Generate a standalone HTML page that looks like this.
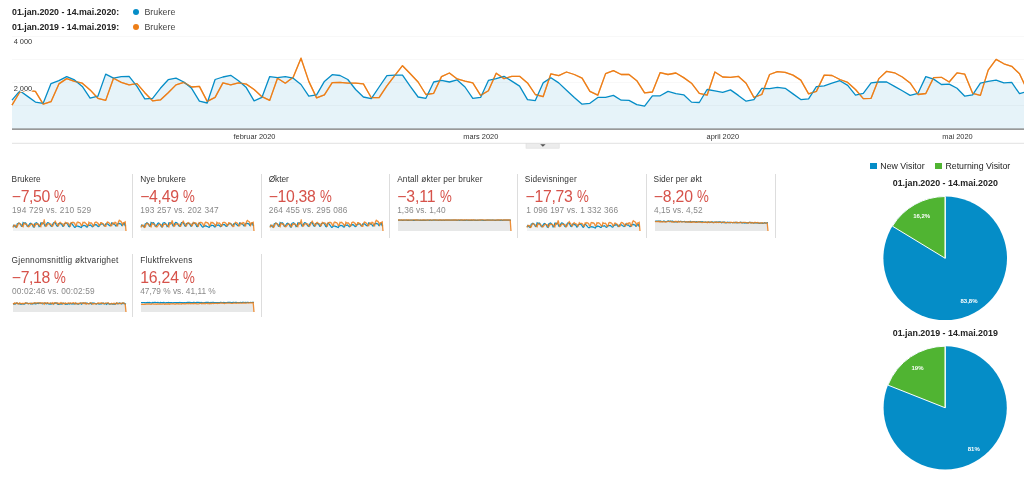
<!DOCTYPE html>
<html><head><meta charset="utf-8"><title>Brukere</title>
<style>
html,body{margin:0;padding:0;background:#fff;}
body{width:1024px;height:478px;position:relative;overflow:hidden;font-family:"Liberation Sans",sans-serif;color:#444;}
.lg{position:absolute;left:12px;font-size:8.8px;font-weight:bold;color:#222;white-space:nowrap;line-height:12px}
.lg2{position:absolute;left:144.5px;font-size:8.8px;color:#444;white-space:nowrap;line-height:12px}
.dot{position:absolute;left:132.5px;width:6.3px;height:6.3px;border-radius:50%}
svg text{font-family:"Liberation Sans",sans-serif}
.card{position:absolute;width:128px;height:64px;}
.card .t{position:absolute;left:0px;top:-0.1px;font-size:8.3px;line-height:10px;color:#333;white-space:nowrap}
.card .b{position:absolute;left:0px;top:14.1px;font-size:15.8px;line-height:18px;color:#d6524a;white-space:nowrap}
.card .s{position:absolute;left:0;top:31.4px;font-size:8.3px;line-height:10px;color:#888;white-space:nowrap}
.card .sp{position:absolute;left:0px;top:45px}
.pc{display:inline-block;transform:scaleX(0.84);transform-origin:0 50%;margin-right:-2.2px}
.sep{position:absolute;width:1px;background:#ddd;height:63.5px}
.pl{position:absolute;font-size:8.8px;color:#222;white-space:nowrap;line-height:10px}
.pt{position:absolute;font-size:8.9px;font-weight:bold;color:#222;white-space:nowrap;line-height:11px;width:200px;text-align:center}
.sq{position:absolute;width:6.3px;height:6.3px}
</style></head><body>
<div class="lg" style="top:6.3px">01.jan.2020 - 14.mai.2020:</div>
<div class="lg" style="top:21.4px">01.jan.2019 - 14.mai.2019:</div>
<div class="dot" style="top:8.8px;background:#058dc7"></div>
<div class="dot" style="top:23.6px;background:#ed7e17"></div>
<div class="lg2" style="top:6.4px">Brukere</div>
<div class="lg2" style="top:21.2px">Brukere</div>
<svg width="1024" height="160" viewBox="0 0 1024 160" style="position:absolute;left:0;top:0">
<g stroke="#f8f8f8" stroke-width="1">
<line x1="12" y1="36.5" x2="1024" y2="36.5"/>
<line x1="12" y1="59.5" x2="1024" y2="59.5"/>
<line x1="12" y1="82.5" x2="1024" y2="82.5"/>
<line x1="12" y1="105.5" x2="1024" y2="105.5"/>
</g>
<polygon points="12,129 12.0,100.2 19.8,90.8 27.6,96.4 35.4,102.1 43.2,103.3 51.0,83.6 58.9,80.7 66.7,76.6 74.5,79.9 82.3,86.4 90.1,98.1 97.9,96.2 105.7,74.1 113.5,78.2 121.3,76.6 129.1,76.3 137.0,86.4 144.8,98.9 152.6,98.3 160.4,88.3 168.2,79.7 176.0,78.2 183.8,82.0 191.6,88.3 199.4,101.2 207.2,103.0 215.1,79.5 222.9,77.0 230.7,75.3 238.5,80.7 246.3,87.6 254.1,100.8 261.9,97.4 269.7,76.6 277.5,77.6 285.3,76.6 293.2,78.2 301.0,84.5 308.8,96.2 316.6,94.9 324.4,81.4 332.2,74.7 340.0,75.5 347.8,79.5 355.6,89.5 363.4,97.0 371.3,98.7 379.1,87.0 386.9,75.7 394.7,75.1 402.5,75.1 410.3,86.4 418.1,97.0 425.9,98.3 433.7,82.0 441.5,80.4 449.4,82.0 457.2,79.9 465.0,87.0 472.8,98.3 480.6,97.4 488.4,80.4 496.2,78.6 504.0,76.3 511.8,81.1 519.6,86.1 527.5,99.6 535.3,100.6 543.1,82.9 550.9,77.8 558.7,82.9 566.5,90.2 574.3,97.4 582.1,104.2 589.9,103.3 597.8,97.4 605.6,97.4 613.4,95.4 621.2,100.2 629.0,100.4 636.8,104.6 644.6,106.2 652.4,95.8 660.2,95.8 668.0,91.4 675.9,93.7 683.7,94.8 691.5,102.1 699.3,102.5 707.1,89.5 714.9,90.8 722.7,92.4 730.5,89.9 738.3,95.4 746.1,101.2 753.9,99.6 761.8,88.3 769.6,88.6 777.4,87.3 785.2,88.3 793.0,93.9 800.8,99.6 808.6,98.9 816.4,86.6 824.2,85.8 832.0,83.2 839.9,80.7 847.7,85.4 855.5,95.2 863.3,93.3 871.1,82.9 878.9,82.0 886.7,82.0 894.5,86.4 902.3,90.8 910.1,95.4 918.0,93.3 925.8,76.6 933.6,79.1 941.4,84.5 949.2,84.1 957.0,88.3 964.8,96.2 972.6,94.9 980.4,83.2 988.2,81.4 996.1,80.1 1003.9,82.9 1011.7,82.4 1019.5,93.7 1027.3,91.4 1027.3,129" fill="#058dc7" fill-opacity="0.1"/>
<polyline points="12.0,105.2 19.8,92.0 27.6,90.4 35.4,91.4 43.2,104.2 51.0,101.7 58.9,83.9 66.7,78.6 74.5,81.4 82.3,83.2 90.1,89.9 97.9,98.3 105.7,100.4 113.5,78.2 121.3,82.4 129.1,84.9 137.0,83.6 144.8,92.7 152.6,100.8 160.4,99.9 168.2,92.7 176.0,84.9 183.8,82.4 191.6,87.0 199.4,86.4 207.2,101.4 215.1,97.4 222.9,82.9 230.7,84.9 238.5,82.9 246.3,84.1 254.1,89.5 261.9,96.7 269.7,100.4 277.5,78.2 285.3,83.2 293.2,77.3 301.0,58.2 308.8,81.4 316.6,97.9 324.4,94.9 332.2,82.6 340.0,82.4 347.8,83.2 355.6,83.2 363.4,83.9 371.3,97.7 379.1,97.7 386.9,85.8 394.7,75.7 402.5,65.7 410.3,73.8 418.1,82.0 425.9,94.5 433.7,93.3 441.5,76.6 449.4,73.0 457.2,78.9 465.0,81.1 472.8,82.9 480.6,95.4 488.4,90.8 496.2,73.2 504.0,78.6 511.8,76.3 519.6,76.3 527.5,82.9 535.3,94.5 543.1,96.7 550.9,73.8 558.7,75.7 566.5,72.0 574.3,74.5 582.1,78.2 589.9,91.4 597.8,95.2 605.6,73.6 613.4,70.7 621.2,74.5 629.0,74.5 636.8,80.7 644.6,92.9 652.4,92.0 660.2,72.6 668.0,74.5 675.9,73.0 683.7,77.6 691.5,83.2 699.3,93.3 707.1,95.2 714.9,72.0 722.7,77.0 730.5,77.3 738.3,76.3 746.1,83.2 753.9,97.4 761.8,94.5 769.6,74.5 777.4,71.6 785.2,72.3 793.0,75.1 800.8,80.1 808.6,93.9 816.4,91.4 824.2,75.1 832.0,75.5 839.9,79.5 847.7,82.4 855.5,89.5 863.3,98.7 871.1,98.3 878.9,78.6 886.7,71.3 894.5,72.8 902.3,77.0 910.1,82.9 918.0,94.5 925.8,93.5 933.6,77.6 941.4,77.3 949.2,82.0 957.0,72.8 964.8,74.2 972.6,93.3 980.4,95.4 988.2,70.1 996.1,59.4 1003.9,63.8 1011.7,66.3 1019.5,73.8 1027.3,90.2" fill="none" stroke="#ed7e17" stroke-width="1.3" stroke-linejoin="round"/>
<polyline points="12.0,100.2 19.8,90.8 27.6,96.4 35.4,102.1 43.2,103.3 51.0,83.6 58.9,80.7 66.7,76.6 74.5,79.9 82.3,86.4 90.1,98.1 97.9,96.2 105.7,74.1 113.5,78.2 121.3,76.6 129.1,76.3 137.0,86.4 144.8,98.9 152.6,98.3 160.4,88.3 168.2,79.7 176.0,78.2 183.8,82.0 191.6,88.3 199.4,101.2 207.2,103.0 215.1,79.5 222.9,77.0 230.7,75.3 238.5,80.7 246.3,87.6 254.1,100.8 261.9,97.4 269.7,76.6 277.5,77.6 285.3,76.6 293.2,78.2 301.0,84.5 308.8,96.2 316.6,94.9 324.4,81.4 332.2,74.7 340.0,75.5 347.8,79.5 355.6,89.5 363.4,97.0 371.3,98.7 379.1,87.0 386.9,75.7 394.7,75.1 402.5,75.1 410.3,86.4 418.1,97.0 425.9,98.3 433.7,82.0 441.5,80.4 449.4,82.0 457.2,79.9 465.0,87.0 472.8,98.3 480.6,97.4 488.4,80.4 496.2,78.6 504.0,76.3 511.8,81.1 519.6,86.1 527.5,99.6 535.3,100.6 543.1,82.9 550.9,77.8 558.7,82.9 566.5,90.2 574.3,97.4 582.1,104.2 589.9,103.3 597.8,97.4 605.6,97.4 613.4,95.4 621.2,100.2 629.0,100.4 636.8,104.6 644.6,106.2 652.4,95.8 660.2,95.8 668.0,91.4 675.9,93.7 683.7,94.8 691.5,102.1 699.3,102.5 707.1,89.5 714.9,90.8 722.7,92.4 730.5,89.9 738.3,95.4 746.1,101.2 753.9,99.6 761.8,88.3 769.6,88.6 777.4,87.3 785.2,88.3 793.0,93.9 800.8,99.6 808.6,98.9 816.4,86.6 824.2,85.8 832.0,83.2 839.9,80.7 847.7,85.4 855.5,95.2 863.3,93.3 871.1,82.9 878.9,82.0 886.7,82.0 894.5,86.4 902.3,90.8 910.1,95.4 918.0,93.3 925.8,76.6 933.6,79.1 941.4,84.5 949.2,84.1 957.0,88.3 964.8,96.2 972.6,94.9 980.4,83.2 988.2,81.4 996.1,80.1 1003.9,82.9 1011.7,82.4 1019.5,93.7 1027.3,91.4" fill="none" stroke="#058dc7" stroke-width="1.3" stroke-linejoin="round"/>
<polyline points="12.0,105.2 19.8,92.0 27.6,90.4 35.4,91.4 43.2,104.2 51.0,101.7 58.9,83.9 66.7,78.6 74.5,81.4 82.3,83.2 90.1,89.9 97.9,98.3 105.7,100.4 113.5,78.2 121.3,82.4 129.1,84.9 137.0,83.6 144.8,92.7 152.6,100.8 160.4,99.9 168.2,92.7 176.0,84.9 183.8,82.4 191.6,87.0 199.4,86.4 207.2,101.4 215.1,97.4 222.9,82.9 230.7,84.9 238.5,82.9 246.3,84.1 254.1,89.5 261.9,96.7 269.7,100.4 277.5,78.2 285.3,83.2 293.2,77.3 301.0,58.2 308.8,81.4 316.6,97.9 324.4,94.9 332.2,82.6 340.0,82.4 347.8,83.2 355.6,83.2 363.4,83.9 371.3,97.7 379.1,97.7 386.9,85.8 394.7,75.7 402.5,65.7 410.3,73.8 418.1,82.0 425.9,94.5 433.7,93.3 441.5,76.6 449.4,73.0 457.2,78.9 465.0,81.1 472.8,82.9 480.6,95.4 488.4,90.8 496.2,73.2 504.0,78.6 511.8,76.3 519.6,76.3 527.5,82.9 535.3,94.5 543.1,96.7 550.9,73.8 558.7,75.7 566.5,72.0 574.3,74.5 582.1,78.2 589.9,91.4 597.8,95.2 605.6,73.6 613.4,70.7 621.2,74.5 629.0,74.5 636.8,80.7 644.6,92.9 652.4,92.0 660.2,72.6 668.0,74.5 675.9,73.0 683.7,77.6 691.5,83.2 699.3,93.3 707.1,95.2 714.9,72.0 722.7,77.0 730.5,77.3 738.3,76.3 746.1,83.2 753.9,97.4 761.8,94.5 769.6,74.5 777.4,71.6 785.2,72.3 793.0,75.1 800.8,80.1 808.6,93.9 816.4,91.4 824.2,75.1 832.0,75.5 839.9,79.5 847.7,82.4 855.5,89.5 863.3,98.7 871.1,98.3 878.9,78.6 886.7,71.3 894.5,72.8 902.3,77.0 910.1,82.9 918.0,94.5 925.8,93.5 933.6,77.6 941.4,77.3 949.2,82.0 957.0,72.8 964.8,74.2 972.6,93.3 980.4,95.4 988.2,70.1 996.1,59.4 1003.9,63.8 1011.7,66.3 1019.5,73.8 1027.3,90.2" fill="none" stroke="#ed7e17" stroke-width="1.3" stroke-linejoin="round" stroke-opacity="0.55"/>
<line x1="12" y1="129.1" x2="1024" y2="129.1" stroke="#777" stroke-width="1.3"/>
<line x1="12" y1="143.3" x2="1024" y2="143.3" stroke="#e2e2e2" stroke-width="1"/>
<g font-size="7.4" fill="#333" stroke="#fff" stroke-width="2" paint-order="stroke" stroke-linejoin="round">
<text x="13.7" y="44.3">4 000</text>
<text x="13.7" y="90.9">2 000</text>
<text x="254.5" y="139.2" text-anchor="middle">februar 2020</text>
<text x="480.8" y="139.2" text-anchor="middle">mars 2020</text>
<text x="722.8" y="139.2" text-anchor="middle">april 2020</text>
<text x="957.5" y="139.2" text-anchor="middle">mai 2020</text>
</g>
<rect x="526" y="143.3" width="33.2" height="4.9" fill="#ececec" stroke="#ddd" stroke-width="0.6"/>
<path d="M540.2,144.2 L545.6,144.2 L542.9,146.8 Z" fill="#555"/>
</svg>
<div class="card" style="left:12px;top:174.0px"><div class="t" id="t0" style="letter-spacing:0.000px;margin-left:-0.40px">Brukere</div><div class="b" id="b0" style="letter-spacing:-0.367px;margin-left:-0.20px">−7,50 <span class="pc">%</span></div><div class="s" id="s0" style="letter-spacing:0.222px;margin-left:0.00px">194 729 vs. 210 529</div><svg class="sp" width="116" height="14" viewBox="-1 -1 116 14"><polygon points="0,11 0.0,6.6 0.8,5.2 1.7,5.1 2.5,5.3 3.4,7.1 4.2,4.0 5.1,3.6 5.9,2.9 6.7,3.4 7.6,4.0 8.4,5.0 9.3,6.0 10.1,2.5 11.0,3.2 11.8,2.9 12.6,2.9 13.5,4.0 14.3,5.5 15.2,6.3 16.0,4.8 16.9,3.4 17.7,3.2 18.6,3.8 19.4,4.6 20.2,4.5 21.1,6.8 21.9,3.4 22.8,3.0 23.6,2.7 24.5,3.6 25.3,4.1 26.1,5.0 27.0,6.1 27.8,2.9 28.7,3.1 29.5,2.9 30.4,3.0 31.2,0.3 32.0,3.7 32.9,5.8 33.7,3.7 34.6,2.6 35.4,2.7 36.3,3.4 37.1,4.0 37.9,4.1 38.8,6.2 39.6,4.6 40.5,2.8 41.3,2.7 42.2,1.2 43.0,2.5 43.9,3.8 44.7,5.8 45.5,3.8 46.4,2.9 47.2,2.3 48.1,3.3 48.9,3.6 49.8,3.9 50.6,5.9 51.4,3.5 52.3,2.4 53.1,2.9 54.0,2.9 54.8,2.9 55.7,3.9 56.5,5.8 57.3,3.9 58.2,2.5 59.0,2.8 59.9,2.2 60.7,2.6 61.6,3.2 62.4,5.3 63.2,5.8 64.1,2.4 64.9,2.0 65.8,2.6 66.6,2.6 67.5,3.6 68.3,5.5 69.1,5.4 70.0,2.3 70.8,2.6 71.7,2.3 72.5,3.1 73.4,4.0 74.2,5.6 75.1,5.0 75.9,2.2 76.7,3.0 77.6,3.0 78.4,2.9 79.3,4.0 80.1,6.2 81.0,4.8 81.8,2.6 82.6,2.1 83.5,2.2 84.3,2.7 85.2,3.5 86.0,5.7 86.9,4.5 87.7,2.7 88.5,2.7 89.4,3.4 90.2,3.8 91.1,5.0 91.9,5.6 92.8,3.9 93.6,3.2 94.4,2.1 95.3,2.3 96.1,3.0 97.0,3.9 97.8,5.6 98.7,2.9 99.5,3.1 100.4,3.0 101.2,3.8 102.0,2.3 102.9,2.5 103.7,5.6 104.6,4.0 105.4,1.9 106.3,0.3 107.1,0.9 107.9,1.3 108.8,2.5 109.6,5.1 110.5,2.7 111.3,2.6 112.2,2.0 113.0,2.0 113.0,11.0" fill="#f0f2f3"/><polyline points="0.0,6.6 0.8,5.2 1.7,6.0 2.5,6.9 3.4,7.1 4.2,4.0 5.1,3.6 5.9,2.9 6.7,3.4 7.6,4.5 8.4,6.3 9.3,6.0 10.1,2.5 11.0,3.2 11.8,2.9 12.6,2.9 13.5,4.5 14.3,6.4 15.2,6.3 16.0,4.8 16.9,3.4 17.7,3.2 18.6,3.8 19.4,4.8 20.2,6.8 21.1,7.1 21.9,3.4 22.8,3.0 23.6,2.7 24.5,3.6 25.3,4.7 26.1,6.7 27.0,6.2 27.8,2.9 28.7,3.1 29.5,2.9 30.4,3.2 31.2,4.2 32.0,6.0 32.9,5.8 33.7,3.7 34.6,2.6 35.4,2.7 36.3,3.4 37.1,5.0 37.9,6.1 38.8,6.4 39.6,4.6 40.5,2.8 41.3,2.7 42.2,2.7 43.0,4.5 43.9,6.1 44.7,6.3 45.5,3.8 46.4,3.5 47.2,3.8 48.1,3.4 48.9,4.6 49.8,6.3 50.6,6.2 51.4,3.5 52.3,3.2 53.1,2.9 54.0,3.6 54.8,4.4 55.7,6.5 56.5,6.7 57.3,3.9 58.2,3.1 59.0,3.9 59.9,5.1 60.7,6.2 61.6,7.3 62.4,7.1 63.2,6.2 64.1,6.2 64.9,5.9 65.8,6.6 66.6,6.7 67.5,7.3 68.3,7.6 69.1,5.9 70.0,5.9 70.8,5.3 71.7,5.6 72.5,5.8 73.4,6.9 74.2,7.0 75.1,5.0 75.9,5.2 76.7,5.4 77.6,5.0 78.4,5.9 79.3,6.8 80.1,6.5 81.0,4.8 81.8,4.8 82.6,4.6 83.5,4.8 84.3,5.7 85.2,6.5 86.0,6.4 86.9,4.5 87.7,4.4 88.5,4.0 89.4,3.6 90.2,4.3 91.1,5.8 91.9,5.6 92.8,3.9 93.6,3.8 94.4,3.8 95.3,4.5 96.1,5.2 97.0,5.9 97.8,5.6 98.7,2.9 99.5,3.3 100.4,4.2 101.2,4.1 102.0,4.8 102.9,6.0 103.7,5.8 104.6,4.0 105.4,3.7 106.3,3.5 107.1,3.9 107.9,3.8 108.8,5.6 109.6,5.3 110.5,3.7 111.3,3.3 112.2,5.7 113.0,5.9" fill="none" stroke="#058dc7" stroke-width="1.2"/><polyline points="0.0,7.4 0.8,5.4 1.7,5.1 2.5,5.3 3.4,7.3 4.2,6.9 5.1,4.1 5.9,3.2 6.7,3.7 7.6,4.0 8.4,5.0 9.3,6.3 10.1,6.7 11.0,3.2 11.8,3.8 12.6,4.2 13.5,4.0 14.3,5.5 15.2,6.7 16.0,6.6 16.9,5.5 17.7,4.2 18.6,3.8 19.4,4.6 20.2,4.5 21.1,6.8 21.9,6.2 22.8,3.9 23.6,4.2 24.5,3.9 25.3,4.1 26.1,5.0 27.0,6.1 27.8,6.7 28.7,3.2 29.5,4.0 30.4,3.0 31.2,0.3 32.0,3.7 32.9,6.3 33.7,5.8 34.6,3.9 35.4,3.8 36.3,4.0 37.1,4.0 37.9,4.1 38.8,6.2 39.6,6.2 40.5,4.4 41.3,2.8 42.2,1.2 43.0,2.5 43.9,3.8 44.7,5.8 45.5,5.6 46.4,2.9 47.2,2.3 48.1,3.3 48.9,3.6 49.8,3.9 50.6,5.9 51.4,5.2 52.3,2.4 53.1,3.2 54.0,2.9 54.8,2.9 55.7,3.9 56.5,5.8 57.3,6.1 58.2,2.5 59.0,2.8 59.9,2.2 60.7,2.6 61.6,3.2 62.4,5.3 63.2,5.8 64.1,2.4 64.9,2.0 65.8,2.6 66.6,2.6 67.5,3.6 68.3,5.5 69.1,5.4 70.0,2.3 70.8,2.6 71.7,2.3 72.5,3.1 73.4,4.0 74.2,5.6 75.1,5.8 75.9,2.2 76.7,3.0 77.6,3.0 78.4,2.9 79.3,4.0 80.1,6.2 81.0,5.8 81.8,2.6 82.6,2.1 83.5,2.2 84.3,2.7 85.2,3.5 86.0,5.7 86.9,5.3 87.7,2.7 88.5,2.7 89.4,3.4 90.2,3.8 91.1,5.0 91.9,6.4 92.8,6.3 93.6,3.2 94.4,2.1 95.3,2.3 96.1,3.0 97.0,3.9 97.8,5.8 98.7,5.6 99.5,3.1 100.4,3.0 101.2,3.8 102.0,2.3 102.9,2.5 103.7,5.6 104.6,5.9 105.4,1.9 106.3,0.3 107.1,0.9 107.9,1.3 108.8,2.5 109.6,5.1 110.5,2.7 111.3,2.6 112.2,2.0 113.0,11.0" fill="none" stroke="#ed7e17" stroke-width="1.3" stroke-opacity="0.85"/></svg></div>
<div class="card" style="left:140px;top:174.0px"><div class="t" id="t1" style="letter-spacing:0.060px;margin-left:0.20px">Nye brukere</div><div class="b" id="b1" style="letter-spacing:-0.300px;margin-left:0.20px">−4,49 <span class="pc">%</span></div><div class="s" id="s1" style="letter-spacing:0.178px;margin-left:0.20px">193 257 vs. 202 347</div><svg class="sp" width="116" height="14" viewBox="-1 -1 116 14"><polygon points="0,11 0.0,6.5 0.8,5.0 1.7,5.2 2.5,5.4 3.4,7.0 4.2,3.9 5.1,3.4 5.9,2.8 6.7,3.3 7.6,4.1 8.4,5.2 9.3,5.9 10.1,2.4 11.0,3.0 11.8,2.8 12.6,2.7 13.5,4.2 14.3,5.6 15.2,6.2 16.0,4.6 16.9,3.3 17.7,3.0 18.6,3.6 19.4,4.6 20.2,4.6 21.1,6.9 21.9,3.2 22.8,2.8 23.6,2.6 24.5,3.4 25.3,4.3 26.1,5.1 27.0,6.1 27.8,2.8 28.7,2.9 29.5,2.8 30.4,3.0 31.2,0.3 32.0,3.8 32.9,5.7 33.7,3.5 34.6,2.5 35.4,2.6 36.3,3.2 37.1,4.1 37.9,4.2 38.8,6.3 39.6,4.4 40.5,2.6 41.3,2.5 42.2,1.3 43.0,2.6 43.9,3.9 44.7,5.9 45.5,3.6 46.4,3.1 47.2,2.5 48.1,3.3 48.9,3.8 49.8,4.1 50.6,6.0 51.4,3.4 52.3,2.5 53.1,2.7 54.0,3.0 54.8,3.0 55.7,4.1 56.5,5.9 57.3,3.8 58.2,2.6 59.0,2.9 59.9,2.3 60.7,2.7 61.6,3.3 62.4,5.4 63.2,6.0 64.1,2.6 64.9,2.1 65.8,2.7 66.6,2.7 67.5,3.7 68.3,5.6 69.1,5.5 70.0,2.4 70.8,2.7 71.7,2.5 72.5,3.2 73.4,4.1 74.2,5.7 75.1,4.8 75.9,2.3 76.7,3.1 77.6,3.2 78.4,3.0 79.3,4.1 80.1,6.4 81.0,4.6 81.8,2.7 82.6,2.3 83.5,2.4 84.3,2.8 85.2,3.6 86.0,5.8 86.9,4.4 87.7,2.8 88.5,2.9 89.4,3.4 90.2,4.0 91.1,5.1 91.9,5.4 92.8,3.8 93.6,3.4 94.4,2.2 95.3,2.5 96.1,3.1 97.0,4.1 97.8,5.4 98.7,2.8 99.5,3.2 100.4,3.2 101.2,3.9 102.0,2.5 102.9,2.7 103.7,5.7 104.6,3.8 105.4,2.0 106.3,0.4 107.1,1.0 107.9,1.4 108.8,2.6 109.6,5.1 110.5,2.9 111.3,2.7 112.2,2.2 113.0,2.2 113.0,11.0" fill="#f0f2f3"/><polyline points="0.0,6.5 0.8,5.0 1.7,5.9 2.5,6.8 3.4,7.0 4.2,3.9 5.1,3.4 5.9,2.8 6.7,3.3 7.6,4.3 8.4,6.2 9.3,5.9 10.1,2.4 11.0,3.0 11.8,2.8 12.6,2.7 13.5,4.3 14.3,6.3 15.2,6.2 16.0,4.6 16.9,3.3 17.7,3.0 18.6,3.6 19.4,4.6 20.2,6.6 21.1,6.9 21.9,3.2 22.8,2.8 23.6,2.6 24.5,3.4 25.3,4.5 26.1,6.6 27.0,6.1 27.8,2.8 28.7,2.9 29.5,2.8 30.4,3.0 31.2,4.0 32.0,5.9 32.9,5.7 33.7,3.5 34.6,2.5 35.4,2.6 36.3,3.2 37.1,4.8 37.9,6.0 38.8,6.3 39.6,4.4 40.5,2.6 41.3,2.5 42.2,2.5 43.0,4.3 43.9,6.0 44.7,6.2 45.5,3.6 46.4,3.4 47.2,3.6 48.1,3.3 48.9,4.4 49.8,6.2 50.6,6.1 51.4,3.4 52.3,3.1 53.1,2.7 54.0,3.5 54.8,4.3 55.7,6.4 56.5,6.6 57.3,3.8 58.2,3.0 59.0,3.8 59.9,4.9 60.7,6.1 61.6,7.1 62.4,7.0 63.2,6.1 64.1,6.1 64.9,5.7 65.8,6.5 66.6,6.5 67.5,7.2 68.3,7.4 69.1,5.8 70.0,5.8 70.8,5.1 71.7,5.5 72.5,5.6 73.4,6.8 74.2,6.8 75.1,4.8 75.9,5.0 76.7,5.3 77.6,4.9 78.4,5.7 79.3,6.6 80.1,6.4 81.0,4.6 81.8,4.7 82.6,4.5 83.5,4.6 84.3,5.5 85.2,6.4 86.0,6.3 86.9,4.4 87.7,4.2 88.5,3.8 89.4,3.4 90.2,4.2 91.1,5.7 91.9,5.4 92.8,3.8 93.6,3.6 94.4,3.6 95.3,4.3 96.1,5.0 97.0,5.7 97.8,5.4 98.7,2.8 99.5,3.2 100.4,4.0 101.2,4.0 102.0,4.6 102.9,5.9 103.7,5.7 104.6,3.8 105.4,3.5 106.3,3.3 107.1,3.8 107.9,3.7 108.8,5.5 109.6,5.1 110.5,3.5 111.3,3.1 112.2,5.5 113.0,5.7" fill="none" stroke="#058dc7" stroke-width="1.2"/><polyline points="0.0,7.6 0.8,5.5 1.7,5.2 2.5,5.4 3.4,7.4 4.2,7.0 5.1,4.2 5.9,3.4 6.7,3.8 7.6,4.1 8.4,5.2 9.3,6.5 10.1,6.8 11.0,3.3 11.8,4.0 12.6,4.4 13.5,4.2 14.3,5.6 15.2,6.9 16.0,6.8 16.9,5.6 17.7,4.4 18.6,4.0 19.4,4.7 20.2,4.6 21.1,7.0 21.9,6.4 22.8,4.1 23.6,4.4 24.5,4.1 25.3,4.3 26.1,5.1 27.0,6.2 27.8,6.8 28.7,3.3 29.5,4.1 30.4,3.2 31.2,0.3 32.0,3.8 32.9,6.4 33.7,6.0 34.6,4.0 35.4,4.0 36.3,4.1 37.1,4.1 37.9,4.2 38.8,6.4 39.6,6.4 40.5,4.5 41.3,2.9 42.2,1.3 43.0,2.6 43.9,3.9 44.7,5.9 45.5,5.7 46.4,3.1 47.2,2.5 48.1,3.4 48.9,3.8 49.8,4.1 50.6,6.0 51.4,5.3 52.3,2.5 53.1,3.4 54.0,3.0 54.8,3.0 55.7,4.1 56.5,5.9 57.3,6.2 58.2,2.6 59.0,2.9 59.9,2.3 60.7,2.7 61.6,3.3 62.4,5.4 63.2,6.0 64.1,2.6 64.9,2.1 65.8,2.7 66.6,2.7 67.5,3.7 68.3,5.6 69.1,5.5 70.0,2.4 70.8,2.7 71.7,2.5 72.5,3.2 73.4,4.1 74.2,5.7 75.1,6.0 75.9,2.3 76.7,3.1 77.6,3.2 78.4,3.0 79.3,4.1 80.1,6.4 81.0,5.9 81.8,2.7 82.6,2.3 83.5,2.4 84.3,2.8 85.2,3.6 86.0,5.8 86.9,5.4 87.7,2.8 88.5,2.9 89.4,3.5 90.2,4.0 91.1,5.1 91.9,6.6 92.8,6.5 93.6,3.4 94.4,2.2 95.3,2.5 96.1,3.1 97.0,4.1 97.8,5.9 98.7,5.7 99.5,3.2 100.4,3.2 101.2,3.9 102.0,2.5 102.9,2.7 103.7,5.7 104.6,6.0 105.4,2.0 106.3,0.4 107.1,1.0 107.9,1.4 108.8,2.6 109.6,5.2 110.5,2.9 111.3,2.7 112.2,2.2 113.0,11.0" fill="none" stroke="#ed7e17" stroke-width="1.3" stroke-opacity="0.85"/></svg></div>
<div class="card" style="left:268.5px;top:174.0px"><div class="t" id="t2" style="letter-spacing:-0.050px;margin-left:0.20px">Økter</div><div class="b" id="b2" style="letter-spacing:-0.314px;margin-left:0.20px">−10,38 <span class="pc">%</span></div><div class="s" id="s2" style="letter-spacing:0.200px;margin-left:0.20px">264 455 vs. 295 086</div><svg class="sp" width="116" height="14" viewBox="-1 -1 116 14"><polygon points="0,11 0.0,6.6 0.8,5.2 1.7,5.1 2.5,5.3 3.4,7.1 4.2,4.0 5.1,3.6 5.9,2.9 6.7,3.4 7.6,4.0 8.4,5.0 9.3,6.0 10.1,2.5 11.0,3.2 11.8,2.9 12.6,2.9 13.5,4.0 14.3,5.5 15.2,6.3 16.0,4.8 16.9,3.4 17.7,3.2 18.6,3.8 19.4,4.6 20.2,4.5 21.1,6.8 21.9,3.4 22.8,3.0 23.6,2.7 24.5,3.6 25.3,4.1 26.1,5.0 27.0,6.1 27.8,2.9 28.7,3.1 29.5,2.9 30.4,3.0 31.2,0.3 32.0,3.7 32.9,5.8 33.7,3.7 34.6,2.6 35.4,2.7 36.3,3.4 37.1,4.0 37.9,4.1 38.8,6.2 39.6,4.6 40.5,2.8 41.3,2.7 42.2,1.2 43.0,2.5 43.9,3.8 44.7,5.8 45.5,3.8 46.4,2.9 47.2,2.3 48.1,3.3 48.9,3.6 49.8,3.9 50.6,5.9 51.4,3.5 52.3,2.4 53.1,2.9 54.0,2.9 54.8,2.9 55.7,3.9 56.5,5.8 57.3,3.9 58.2,2.5 59.0,2.8 59.9,2.2 60.7,2.6 61.6,3.2 62.4,5.3 63.2,5.8 64.1,2.4 64.9,2.0 65.8,2.6 66.6,2.6 67.5,3.6 68.3,5.5 69.1,5.4 70.0,2.3 70.8,2.6 71.7,2.3 72.5,3.1 73.4,4.0 74.2,5.6 75.1,5.0 75.9,2.2 76.7,3.0 77.6,3.0 78.4,2.9 79.3,4.0 80.1,6.2 81.0,4.8 81.8,2.6 82.6,2.1 83.5,2.2 84.3,2.7 85.2,3.5 86.0,5.7 86.9,4.5 87.7,2.7 88.5,2.7 89.4,3.4 90.2,3.8 91.1,5.0 91.9,5.6 92.8,3.9 93.6,3.2 94.4,2.1 95.3,2.3 96.1,3.0 97.0,3.9 97.8,5.6 98.7,2.9 99.5,3.1 100.4,3.0 101.2,3.8 102.0,2.3 102.9,2.5 103.7,5.6 104.6,4.0 105.4,1.9 106.3,0.3 107.1,0.9 107.9,1.3 108.8,2.5 109.6,5.1 110.5,2.7 111.3,2.6 112.2,2.0 113.0,2.0 113.0,11.0" fill="#f0f2f3"/><polyline points="0.0,6.6 0.8,5.2 1.7,6.0 2.5,6.9 3.4,7.1 4.2,4.0 5.1,3.6 5.9,2.9 6.7,3.4 7.6,4.5 8.4,6.3 9.3,6.0 10.1,2.5 11.0,3.2 11.8,2.9 12.6,2.9 13.5,4.5 14.3,6.4 15.2,6.3 16.0,4.8 16.9,3.4 17.7,3.2 18.6,3.8 19.4,4.8 20.2,6.8 21.1,7.1 21.9,3.4 22.8,3.0 23.6,2.7 24.5,3.6 25.3,4.7 26.1,6.7 27.0,6.2 27.8,2.9 28.7,3.1 29.5,2.9 30.4,3.2 31.2,4.2 32.0,6.0 32.9,5.8 33.7,3.7 34.6,2.6 35.4,2.7 36.3,3.4 37.1,5.0 37.9,6.1 38.8,6.4 39.6,4.6 40.5,2.8 41.3,2.7 42.2,2.7 43.0,4.5 43.9,6.1 44.7,6.3 45.5,3.8 46.4,3.5 47.2,3.8 48.1,3.4 48.9,4.6 49.8,6.3 50.6,6.2 51.4,3.5 52.3,3.2 53.1,2.9 54.0,3.6 54.8,4.4 55.7,6.5 56.5,6.7 57.3,3.9 58.2,3.1 59.0,3.9 59.9,5.1 60.7,6.2 61.6,7.3 62.4,7.1 63.2,6.2 64.1,6.2 64.9,5.9 65.8,6.6 66.6,6.7 67.5,7.3 68.3,7.6 69.1,5.9 70.0,5.9 70.8,5.3 71.7,5.6 72.5,5.8 73.4,6.9 74.2,7.0 75.1,5.0 75.9,5.2 76.7,5.4 77.6,5.0 78.4,5.9 79.3,6.8 80.1,6.5 81.0,4.8 81.8,4.8 82.6,4.6 83.5,4.8 84.3,5.7 85.2,6.5 86.0,6.4 86.9,4.5 87.7,4.4 88.5,4.0 89.4,3.6 90.2,4.3 91.1,5.8 91.9,5.6 92.8,3.9 93.6,3.8 94.4,3.8 95.3,4.5 96.1,5.2 97.0,5.9 97.8,5.6 98.7,2.9 99.5,3.3 100.4,4.2 101.2,4.1 102.0,4.8 102.9,6.0 103.7,5.8 104.6,4.0 105.4,3.7 106.3,3.5 107.1,3.9 107.9,3.8 108.8,5.6 109.6,5.3 110.5,3.7 111.3,3.3 112.2,5.7 113.0,5.9" fill="none" stroke="#058dc7" stroke-width="1.2"/><polyline points="0.0,7.4 0.8,5.4 1.7,5.1 2.5,5.3 3.4,7.3 4.2,6.9 5.1,4.1 5.9,3.2 6.7,3.7 7.6,4.0 8.4,5.0 9.3,6.3 10.1,6.7 11.0,3.2 11.8,3.8 12.6,4.2 13.5,4.0 14.3,5.5 15.2,6.7 16.0,6.6 16.9,5.5 17.7,4.2 18.6,3.8 19.4,4.6 20.2,4.5 21.1,6.8 21.9,6.2 22.8,3.9 23.6,4.2 24.5,3.9 25.3,4.1 26.1,5.0 27.0,6.1 27.8,6.7 28.7,3.2 29.5,4.0 30.4,3.0 31.2,0.3 32.0,3.7 32.9,6.3 33.7,5.8 34.6,3.9 35.4,3.8 36.3,4.0 37.1,4.0 37.9,4.1 38.8,6.2 39.6,6.2 40.5,4.4 41.3,2.8 42.2,1.2 43.0,2.5 43.9,3.8 44.7,5.8 45.5,5.6 46.4,2.9 47.2,2.3 48.1,3.3 48.9,3.6 49.8,3.9 50.6,5.9 51.4,5.2 52.3,2.4 53.1,3.2 54.0,2.9 54.8,2.9 55.7,3.9 56.5,5.8 57.3,6.1 58.2,2.5 59.0,2.8 59.9,2.2 60.7,2.6 61.6,3.2 62.4,5.3 63.2,5.8 64.1,2.4 64.9,2.0 65.8,2.6 66.6,2.6 67.5,3.6 68.3,5.5 69.1,5.4 70.0,2.3 70.8,2.6 71.7,2.3 72.5,3.1 73.4,4.0 74.2,5.6 75.1,5.8 75.9,2.2 76.7,3.0 77.6,3.0 78.4,2.9 79.3,4.0 80.1,6.2 81.0,5.8 81.8,2.6 82.6,2.1 83.5,2.2 84.3,2.7 85.2,3.5 86.0,5.7 86.9,5.3 87.7,2.7 88.5,2.7 89.4,3.4 90.2,3.8 91.1,5.0 91.9,6.4 92.8,6.3 93.6,3.2 94.4,2.1 95.3,2.3 96.1,3.0 97.0,3.9 97.8,5.8 98.7,5.6 99.5,3.1 100.4,3.0 101.2,3.8 102.0,2.3 102.9,2.5 103.7,5.6 104.6,5.9 105.4,1.9 106.3,0.3 107.1,0.9 107.9,1.3 108.8,2.5 109.6,5.1 110.5,2.7 111.3,2.6 112.2,2.0 113.0,11.0" fill="none" stroke="#ed7e17" stroke-width="1.3" stroke-opacity="0.85"/></svg></div>
<div class="card" style="left:397px;top:174.0px"><div class="t" id="t3" style="letter-spacing:0.145px;margin-left:0.20px">Antall økter per bruker</div><div class="b" id="b3" style="letter-spacing:-0.100px;margin-left:0.20px">−3,11 <span class="pc">%</span></div><div class="s" id="s3" style="letter-spacing:0.067px;margin-left:0.20px">1,36 vs. 1,40</div><svg class="sp" width="116" height="14" viewBox="-1 -1 116 14"><polygon points="0,11 0.0,0.0 0.8,0.0 1.7,-0.1 2.5,0.1 3.4,-0.1 4.2,-0.0 5.1,-0.0 5.9,-0.1 6.7,0.1 7.6,0.1 8.4,-0.1 9.3,0.0 10.1,-0.1 11.0,-0.0 11.8,0.1 12.6,0.1 13.5,0.1 14.3,0.1 15.2,-0.1 16.0,-0.1 16.9,-0.0 17.7,-0.0 18.6,-0.0 19.4,0.0 20.2,0.1 21.1,0.1 21.9,0.1 22.8,-0.1 23.6,0.1 24.5,0.0 25.3,-0.1 26.1,0.0 27.0,-0.1 27.8,0.1 28.7,0.1 29.5,-0.1 30.4,0.1 31.2,-0.1 32.0,-0.1 32.9,-0.0 33.7,0.1 34.6,0.1 35.4,-0.1 36.3,-0.1 37.1,-0.0 37.9,-0.1 38.8,0.1 39.6,0.1 40.5,-0.0 41.3,0.0 42.2,0.0 43.0,0.0 43.9,0.0 44.7,0.1 45.5,-0.0 46.4,0.0 47.2,-0.1 48.1,0.0 48.9,0.0 49.8,-0.1 50.6,-0.0 51.4,-0.0 52.3,0.1 53.1,-0.1 54.0,0.1 54.8,-0.0 55.7,-0.0 56.5,-0.0 57.3,0.0 58.2,-0.0 59.0,-0.1 59.9,0.1 60.7,-0.1 61.6,-0.1 62.4,-0.0 63.2,-0.1 64.1,-0.0 64.9,-0.0 65.8,-0.1 66.6,0.0 67.5,-0.0 68.3,-0.1 69.1,-0.1 70.0,0.1 70.8,-0.1 71.7,0.0 72.5,-0.0 73.4,-0.0 74.2,-0.1 75.1,-0.0 75.9,-0.0 76.7,-0.1 77.6,0.1 78.4,0.1 79.3,0.1 80.1,-0.1 81.0,0.1 81.8,0.0 82.6,-0.0 83.5,-0.1 84.3,-0.1 85.2,-0.1 86.0,0.0 86.9,0.1 87.7,0.0 88.5,0.1 89.4,-0.0 90.2,0.0 91.1,0.1 91.9,-0.0 92.8,0.1 93.6,0.1 94.4,-0.1 95.3,0.1 96.1,0.1 97.0,0.1 97.8,-0.1 98.7,0.1 99.5,-0.1 100.4,0.0 101.2,-0.0 102.0,-0.1 102.9,-0.1 103.7,-0.1 104.6,0.1 105.4,0.0 106.3,-0.0 107.1,0.0 107.9,-0.0 108.8,-0.0 109.6,0.0 110.5,-0.0 111.3,-0.1 112.2,0.0 113.0,0.0 113.0,11.0" fill="#e7e8e8"/><polyline points="0.0,0.1 0.8,0.2 1.7,0.2 2.5,0.1 3.4,0.2 4.2,0.3 5.1,0.3 5.9,0.2 6.7,0.2 7.6,0.2 8.4,0.2 9.3,0.3 10.1,0.2 11.0,0.3 11.8,0.2 12.6,0.2 13.5,0.2 14.3,0.2 15.2,0.3 16.0,0.1 16.9,0.3 17.7,0.2 18.6,0.2 19.4,0.2 20.2,0.2 21.1,0.2 21.9,0.3 22.8,0.2 23.6,0.3 24.5,0.3 25.3,0.2 26.1,0.3 27.0,0.2 27.8,0.3 28.7,0.1 29.5,0.2 30.4,0.2 31.2,0.3 32.0,0.2 32.9,0.2 33.7,0.3 34.6,0.2 35.4,0.2 36.3,0.2 37.1,0.1 37.9,0.2 38.8,0.1 39.6,0.2 40.5,0.3 41.3,0.2 42.2,0.2 43.0,0.2 43.9,0.3 44.7,0.2 45.5,0.1 46.4,0.3 47.2,0.2 48.1,0.2 48.9,0.1 49.8,0.2 50.6,0.2 51.4,0.2 52.3,0.2 53.1,0.1 54.0,0.2 54.8,0.2 55.7,0.2 56.5,0.2 57.3,0.2 58.2,0.2 59.0,0.3 59.9,0.2 60.7,0.2 61.6,0.3 62.4,0.1 63.2,0.2 64.1,0.2 64.9,0.3 65.8,0.3 66.6,0.2 67.5,0.3 68.3,0.1 69.1,0.2 70.0,0.3 70.8,0.1 71.7,0.3 72.5,0.3 73.4,0.1 74.2,0.3 75.1,0.2 75.9,0.2 76.7,0.3 77.6,0.1 78.4,0.3 79.3,0.2 80.1,0.3 81.0,0.2 81.8,0.2 82.6,0.2 83.5,0.1 84.3,0.2 85.2,0.3 86.0,0.3 86.9,0.3 87.7,0.3 88.5,0.1 89.4,0.1 90.2,0.2 91.1,0.2 91.9,0.2 92.8,0.2 93.6,0.2 94.4,0.2 95.3,0.2 96.1,0.1 97.0,0.3 97.8,0.3 98.7,0.2 99.5,0.1 100.4,0.2 101.2,0.2 102.0,0.3 102.9,0.1 103.7,0.1 104.6,0.3 105.4,0.1 106.3,0.2 107.1,0.2 107.9,0.2 108.8,0.1 109.6,0.1 110.5,0.2 111.3,0.1 112.2,0.2 113.0,0.3" fill="none" stroke="#058dc7" stroke-width="1.2"/><polyline points="0.0,0.0 0.8,0.0 1.7,-0.1 2.5,0.1 3.4,-0.1 4.2,-0.0 5.1,-0.0 5.9,-0.1 6.7,0.1 7.6,0.1 8.4,-0.1 9.3,0.0 10.1,-0.1 11.0,-0.0 11.8,0.1 12.6,0.1 13.5,0.1 14.3,0.1 15.2,-0.1 16.0,-0.1 16.9,-0.0 17.7,-0.0 18.6,-0.0 19.4,0.0 20.2,0.1 21.1,0.1 21.9,0.1 22.8,-0.1 23.6,0.1 24.5,0.0 25.3,-0.1 26.1,0.0 27.0,-0.1 27.8,0.1 28.7,0.1 29.5,-0.1 30.4,0.1 31.2,-0.1 32.0,-0.1 32.9,-0.0 33.7,0.1 34.6,0.1 35.4,-0.1 36.3,-0.1 37.1,-0.0 37.9,-0.1 38.8,0.1 39.6,0.1 40.5,-0.0 41.3,0.0 42.2,0.0 43.0,0.0 43.9,0.0 44.7,0.1 45.5,-0.0 46.4,0.0 47.2,-0.1 48.1,0.0 48.9,0.0 49.8,-0.1 50.6,-0.0 51.4,-0.0 52.3,0.1 53.1,-0.1 54.0,0.1 54.8,-0.0 55.7,-0.0 56.5,-0.0 57.3,0.0 58.2,-0.0 59.0,-0.1 59.9,0.1 60.7,-0.1 61.6,-0.1 62.4,-0.0 63.2,-0.1 64.1,-0.0 64.9,-0.0 65.8,-0.1 66.6,0.0 67.5,-0.0 68.3,-0.1 69.1,-0.1 70.0,0.1 70.8,-0.1 71.7,0.0 72.5,-0.0 73.4,-0.0 74.2,-0.1 75.1,-0.0 75.9,-0.0 76.7,-0.1 77.6,0.1 78.4,0.1 79.3,0.1 80.1,-0.1 81.0,0.1 81.8,0.0 82.6,-0.0 83.5,-0.1 84.3,-0.1 85.2,-0.1 86.0,0.0 86.9,0.1 87.7,0.0 88.5,0.1 89.4,-0.0 90.2,0.0 91.1,0.1 91.9,-0.0 92.8,0.1 93.6,0.1 94.4,-0.1 95.3,0.1 96.1,0.1 97.0,0.1 97.8,-0.1 98.7,0.1 99.5,-0.1 100.4,0.0 101.2,-0.0 102.0,-0.1 102.9,-0.1 103.7,-0.1 104.6,0.1 105.4,0.0 106.3,-0.0 107.1,0.0 107.9,-0.0 108.8,-0.0 109.6,0.0 110.5,-0.0 111.3,-0.1 112.2,0.0 113.0,11.0" fill="none" stroke="#ed7e17" stroke-width="1.3" stroke-opacity="0.85"/></svg></div>
<div class="card" style="left:525.5px;top:174.0px"><div class="t" id="t4" style="letter-spacing:0.183px;margin-left:-0.80px">Sidevisninger</div><div class="b" id="b4" style="letter-spacing:-0.286px;margin-left:0.00px">−17,73 <span class="pc">%</span></div><div class="s" id="s4" style="letter-spacing:0.127px;margin-left:0.80px">1 096 197 vs. 1 332 366</div><svg class="sp" width="116" height="14" viewBox="-1 -1 116 14"><polygon points="0,11 0.0,6.9 0.8,5.5 1.7,5.4 2.5,5.5 3.4,7.4 4.2,4.3 5.1,3.9 5.9,3.2 6.7,3.7 7.6,4.3 8.4,5.3 9.3,6.3 10.1,2.8 11.0,3.5 11.8,3.2 12.6,3.2 13.5,4.3 14.3,5.7 15.2,6.6 16.0,5.1 16.9,3.7 17.7,3.5 18.6,4.1 19.4,4.9 20.2,4.8 21.1,7.0 21.9,3.7 22.8,3.3 23.6,3.0 24.5,3.9 25.3,4.4 26.1,5.2 27.0,6.3 27.8,3.2 28.7,3.4 29.5,3.2 30.4,3.4 31.2,0.5 32.0,4.0 32.9,6.1 33.7,4.0 34.6,2.9 35.4,3.0 36.3,3.7 37.1,4.3 37.9,4.4 38.8,6.5 39.6,4.9 40.5,3.1 41.3,3.0 42.2,1.7 43.0,2.9 43.9,4.1 44.7,6.0 45.5,4.1 46.4,3.3 47.2,2.7 48.1,3.6 48.9,4.0 49.8,4.2 50.6,6.1 51.4,4.5 52.3,2.8 53.1,3.6 54.0,3.3 54.8,3.3 55.7,4.2 56.5,6.0 57.3,4.9 58.2,2.9 59.0,3.2 59.9,2.6 60.7,3.0 61.6,3.5 62.4,5.5 63.2,6.1 64.1,2.8 64.9,2.4 65.8,3.0 66.6,3.0 67.5,3.9 68.3,5.7 69.1,5.6 70.0,2.7 70.8,3.0 71.7,2.7 72.5,3.4 73.4,4.3 74.2,5.8 75.1,5.8 75.9,2.6 76.7,3.3 77.6,3.4 78.4,3.3 79.3,4.3 80.1,6.4 81.0,5.6 81.8,3.0 82.6,2.5 83.5,2.7 84.3,3.1 85.2,3.8 86.0,5.9 86.9,5.4 87.7,3.1 88.5,3.1 89.4,3.7 90.2,4.2 91.1,5.2 91.9,6.3 92.8,4.9 93.6,3.6 94.4,2.5 95.3,2.7 96.1,3.3 97.0,4.2 97.8,6.0 98.7,4.0 99.5,3.4 100.4,3.4 101.2,4.1 102.0,2.7 102.9,2.9 103.7,5.8 104.6,4.9 105.4,2.3 106.3,0.7 107.1,1.4 107.9,1.7 108.8,2.9 109.6,5.3 110.5,3.1 111.3,3.0 112.2,2.4 113.0,2.4 113.0,11.0" fill="#f0f2f3"/><polyline points="0.0,6.9 0.8,5.5 1.7,6.3 2.5,7.2 3.4,7.4 4.2,4.3 5.1,3.9 5.9,3.2 6.7,3.7 7.6,4.8 8.4,6.6 9.3,6.3 10.1,2.8 11.0,3.5 11.8,3.2 12.6,3.2 13.5,4.8 14.3,6.7 15.2,6.6 16.0,5.1 16.9,3.7 17.7,3.5 18.6,4.1 19.4,5.1 20.2,7.1 21.1,7.4 21.9,3.7 22.8,3.3 23.6,3.0 24.5,3.9 25.3,5.0 26.1,7.0 27.0,6.5 27.8,3.2 28.7,3.4 29.5,3.2 30.4,3.5 31.2,4.5 32.0,6.3 32.9,6.1 33.7,4.0 34.6,2.9 35.4,3.0 36.3,3.7 37.1,5.3 37.9,6.4 38.8,6.7 39.6,4.9 40.5,3.1 41.3,3.0 42.2,3.0 43.0,4.8 43.9,6.4 44.7,6.6 45.5,4.1 46.4,3.8 47.2,4.8 48.1,4.5 48.9,5.4 49.8,7.0 50.6,6.8 51.4,4.5 52.3,4.3 53.1,4.0 54.0,4.6 54.8,5.3 55.7,7.1 56.5,7.3 57.3,4.9 58.2,4.2 59.0,4.9 59.9,5.9 60.7,6.8 61.6,7.7 62.4,7.6 63.2,6.8 64.1,6.8 64.9,6.6 65.8,7.2 66.6,7.2 67.5,7.8 68.3,8.0 69.1,6.6 70.0,6.6 70.8,6.0 71.7,6.3 72.5,6.5 73.4,7.5 74.2,7.5 75.1,5.8 75.9,5.9 76.7,6.2 77.6,5.8 78.4,6.6 79.3,7.3 80.1,7.1 81.0,5.6 81.8,5.7 82.6,5.5 83.5,5.6 84.3,6.4 85.2,7.1 86.0,7.0 86.9,5.4 87.7,5.3 88.5,4.9 89.4,4.6 90.2,5.2 91.1,6.5 91.9,6.3 92.8,4.9 93.6,4.8 94.4,4.8 95.3,5.4 96.1,5.9 97.0,6.6 97.8,6.3 98.7,4.0 99.5,4.4 100.4,5.1 101.2,5.1 102.0,5.6 102.9,6.7 103.7,6.5 104.6,4.9 105.4,4.7 106.3,4.5 107.1,4.9 107.9,4.8 108.8,6.3 109.6,6.0 110.5,4.7 111.3,4.4 112.2,6.4 113.0,6.5" fill="none" stroke="#058dc7" stroke-width="1.2"/><polyline points="0.0,7.6 0.8,5.6 1.7,5.4 2.5,5.5 3.4,7.4 4.2,7.1 5.1,4.4 5.9,3.6 6.7,4.0 7.6,4.3 8.4,5.3 9.3,6.5 10.1,6.9 11.0,3.5 11.8,4.2 12.6,4.5 13.5,4.3 14.3,5.7 15.2,6.9 16.0,6.8 16.9,5.7 17.7,4.5 18.6,4.2 19.4,4.9 20.2,4.8 21.1,7.0 21.9,6.4 22.8,4.2 23.6,4.5 24.5,4.2 25.3,4.4 26.1,5.2 27.0,6.3 27.8,6.9 28.7,3.5 29.5,4.3 30.4,3.4 31.2,0.5 32.0,4.0 32.9,6.5 33.7,6.0 34.6,4.2 35.4,4.2 36.3,4.3 37.1,4.3 37.9,4.4 38.8,6.5 39.6,6.5 40.5,4.7 41.3,3.2 42.2,1.7 43.0,2.9 43.9,4.1 44.7,6.0 45.5,5.8 46.4,3.3 47.2,2.7 48.1,3.6 48.9,4.0 49.8,4.2 50.6,6.1 51.4,5.4 52.3,2.8 53.1,3.6 54.0,3.3 54.8,3.3 55.7,4.2 56.5,6.0 57.3,6.3 58.2,2.9 59.0,3.2 59.9,2.6 60.7,3.0 61.6,3.5 62.4,5.5 63.2,6.1 64.1,2.8 64.9,2.4 65.8,3.0 66.6,3.0 67.5,3.9 68.3,5.7 69.1,5.6 70.0,2.7 70.8,3.0 71.7,2.7 72.5,3.4 73.4,4.3 74.2,5.8 75.1,6.1 75.9,2.6 76.7,3.3 77.6,3.4 78.4,3.3 79.3,4.3 80.1,6.4 81.0,6.0 81.8,3.0 82.6,2.5 83.5,2.7 84.3,3.1 85.2,3.8 86.0,5.9 86.9,5.5 87.7,3.1 88.5,3.1 89.4,3.7 90.2,4.2 91.1,5.2 91.9,6.6 92.8,6.5 93.6,3.6 94.4,2.5 95.3,2.7 96.1,3.3 97.0,4.2 97.8,6.0 98.7,5.8 99.5,3.4 100.4,3.4 101.2,4.1 102.0,2.7 102.9,2.9 103.7,5.8 104.6,6.1 105.4,2.3 106.3,0.7 107.1,1.4 107.9,1.7 108.8,2.9 109.6,5.3 110.5,3.1 111.3,3.0 112.2,2.4 113.0,11.0" fill="none" stroke="#ed7e17" stroke-width="1.3" stroke-opacity="0.85"/></svg></div>
<div class="card" style="left:654px;top:174.0px"><div class="t" id="t5" style="letter-spacing:0.067px;margin-left:-0.40px">Sider per økt</div><div class="b" id="b5" style="letter-spacing:-0.200px;margin-left:-0.20px">−8,20 <span class="pc">%</span></div><div class="s" id="s5" style="letter-spacing:0.083px;margin-left:0.00px">4,15 vs. 4,52</div><svg class="sp" width="116" height="14" viewBox="-1 -1 116 14"><polygon points="0,11 0.0,1.5 0.8,1.2 1.7,1.2 2.5,1.2 3.4,1.2 4.2,1.3 5.1,0.9 5.9,1.2 6.7,1.5 7.6,1.7 8.4,1.1 9.3,1.0 10.1,1.5 11.0,1.6 11.8,1.6 12.6,1.1 13.5,1.0 14.3,1.3 15.2,1.1 16.0,1.4 16.9,1.1 17.7,1.2 18.6,1.7 19.4,1.8 20.2,1.3 21.1,1.8 21.9,1.4 22.8,1.8 23.6,1.2 24.5,1.7 25.3,1.4 26.1,1.4 27.0,1.8 27.8,1.5 28.7,1.5 29.5,1.3 30.4,1.8 31.2,1.6 32.0,1.9 32.9,1.9 33.7,1.7 34.6,1.6 35.4,1.4 36.3,2.0 37.1,1.8 37.9,1.5 38.8,1.6 39.6,1.7 40.5,2.0 41.3,1.7 42.2,1.8 43.0,1.9 43.9,1.6 44.7,1.9 45.5,1.7 46.4,1.8 47.2,1.7 48.1,2.0 48.9,2.0 49.8,2.2 50.6,2.0 51.4,2.1 52.3,2.3 53.1,1.9 54.0,1.9 54.8,2.3 55.7,2.0 56.5,1.9 57.3,1.9 58.2,2.5 59.0,2.0 59.9,2.0 60.7,1.9 61.6,1.9 62.4,2.0 63.2,2.3 64.1,1.8 64.9,2.2 65.8,2.0 66.6,2.3 67.5,2.0 68.3,2.1 69.1,2.0 70.0,2.1 70.8,2.3 71.7,2.6 72.5,2.2 73.4,2.6 74.2,2.2 75.1,2.6 75.9,2.1 76.7,2.4 77.6,2.7 78.4,2.2 79.3,2.6 80.1,2.2 81.0,2.2 81.8,2.2 82.6,2.4 83.5,2.6 84.3,2.6 85.2,2.3 86.0,2.2 86.9,2.7 87.7,2.5 88.5,2.5 89.4,2.3 90.2,2.4 91.1,2.6 91.9,2.6 92.8,2.8 93.6,2.6 94.4,2.4 95.3,2.4 96.1,3.0 97.0,2.5 97.8,2.7 98.7,3.0 99.5,2.5 100.4,2.5 101.2,2.9 102.0,2.6 102.9,2.4 103.7,3.2 104.6,2.8 105.4,2.9 106.3,3.1 107.1,2.7 107.9,2.9 108.8,3.1 109.6,2.6 110.5,2.9 111.3,2.9 112.2,2.8 113.0,2.8 113.0,11.0" fill="#e7e8e8"/><polyline points="0.0,1.5 0.8,1.2 1.7,1.2 2.5,1.2 3.4,1.2 4.2,1.3 5.1,0.9 5.9,1.2 6.7,1.7 7.6,1.7 8.4,1.1 9.3,1.0 10.1,1.5 11.0,1.6 11.8,1.6 12.6,1.1 13.5,1.0 14.3,1.7 15.2,1.1 16.0,1.8 16.9,1.1 17.7,1.2 18.6,1.7 19.4,1.9 20.2,1.8 21.1,1.8 21.9,1.8 22.8,1.8 23.6,1.2 24.5,1.7 25.3,1.4 26.1,1.4 27.0,1.9 27.8,1.5 28.7,1.5 29.5,1.3 30.4,2.1 31.2,1.9 32.0,1.9 32.9,1.9 33.7,1.7 34.6,2.1 35.4,1.4 36.3,2.2 37.1,1.8 37.9,1.5 38.8,1.6 39.6,1.7 40.5,2.0 41.3,1.7 42.2,1.8 43.0,2.0 43.9,1.7 44.7,1.9 45.5,1.7 46.4,1.8 47.2,1.7 48.1,2.0 48.9,2.0 49.8,2.3 50.6,2.0 51.4,2.4 52.3,2.3 53.1,2.1 54.0,1.9 54.8,2.3 55.7,2.4 56.5,1.9 57.3,1.9 58.2,2.5 59.0,2.0 59.9,2.0 60.7,2.4 61.6,1.9 62.4,2.0 63.2,2.3 64.1,1.8 64.9,2.2 65.8,2.0 66.6,2.7 67.5,2.4 68.3,2.1 69.1,2.0 70.0,2.7 70.8,2.8 71.7,2.6 72.5,2.2 73.4,2.6 74.2,2.2 75.1,2.9 75.9,2.5 76.7,2.5 77.6,2.7 78.4,2.6 79.3,2.6 80.1,2.2 81.0,2.7 81.8,2.9 82.6,2.4 83.5,2.7 84.3,2.7 85.2,2.4 86.0,2.2 86.9,2.9 87.7,2.9 88.5,2.5 89.4,3.0 90.2,2.7 91.1,3.0 91.9,2.6 92.8,2.8 93.6,2.6 94.4,2.4 95.3,2.4 96.1,3.0 97.0,2.5 97.8,2.7 98.7,3.1 99.5,2.9 100.4,2.8 101.2,2.9 102.0,2.6 102.9,3.2 103.7,3.2 104.6,3.3 105.4,3.0 106.3,3.1 107.1,3.1 107.9,3.3 108.8,3.1 109.6,2.6 110.5,3.2 111.3,3.1 112.2,2.8 113.0,2.7" fill="none" stroke="#058dc7" stroke-width="1.2"/><polyline points="0.0,1.6 0.8,1.4 1.7,1.7 2.5,1.7 3.4,1.3 4.2,1.7 5.1,1.5 5.9,1.9 6.7,1.5 7.6,1.9 8.4,1.6 9.3,1.9 10.1,2.0 11.0,1.8 11.8,1.7 12.6,1.7 13.5,1.4 14.3,1.3 15.2,1.3 16.0,1.4 16.9,2.0 17.7,2.0 18.6,2.0 19.4,1.8 20.2,1.3 21.1,1.8 21.9,1.4 22.8,2.2 23.6,1.6 24.5,2.1 25.3,1.5 26.1,1.9 27.0,1.8 27.8,1.8 28.7,1.8 29.5,1.9 30.4,1.8 31.2,1.6 32.0,2.1 32.9,1.9 33.7,2.1 34.6,1.6 35.4,2.2 36.3,2.0 37.1,2.2 37.9,1.8 38.8,2.1 39.6,1.8 40.5,2.4 41.3,2.2 42.2,2.4 43.0,1.9 43.9,1.6 44.7,2.0 45.5,2.0 46.4,2.4 47.2,2.6 48.1,2.2 48.9,2.4 49.8,2.2 50.6,2.4 51.4,2.1 52.3,2.6 53.1,1.9 54.0,2.4 54.8,2.6 55.7,2.0 56.5,2.0 57.3,2.4 58.2,2.6 59.0,2.6 59.9,2.2 60.7,1.9 61.6,2.6 62.4,2.2 63.2,2.5 64.1,2.2 64.9,2.3 65.8,2.4 66.6,2.3 67.5,2.0 68.3,2.5 69.1,2.8 70.0,2.1 70.8,2.3 71.7,2.7 72.5,2.6 73.4,2.7 74.2,2.7 75.1,2.6 75.9,2.1 76.7,2.4 77.6,2.7 78.4,2.2 79.3,2.7 80.1,2.9 81.0,2.2 81.8,2.2 82.6,2.8 83.5,2.6 84.3,2.6 85.2,2.3 86.0,2.8 86.9,2.7 87.7,2.5 88.5,2.6 89.4,2.3 90.2,2.4 91.1,2.6 91.9,2.6 92.8,3.0 93.6,3.0 94.4,2.5 95.3,2.4 96.1,3.0 97.0,2.5 97.8,3.0 98.7,3.0 99.5,2.5 100.4,2.5 101.2,2.9 102.0,2.6 102.9,2.4 103.7,3.2 104.6,2.8 105.4,2.9 106.3,3.3 107.1,2.7 107.9,2.9 108.8,3.1 109.6,3.2 110.5,2.9 111.3,2.9 112.2,3.0 113.0,11.0" fill="none" stroke="#ed7e17" stroke-width="1.3" stroke-opacity="0.85"/></svg></div>
<div class="card" style="left:12px;top:254.6px"><div class="t" id="t6" style="letter-spacing:0.238px;margin-left:-0.40px">Gjennomsnittlig øktvarighet</div><div class="b" id="b6" style="letter-spacing:-0.367px;margin-left:-0.20px">−7,18 <span class="pc">%</span></div><div class="s" id="s6" style="letter-spacing:0.140px;margin-left:0.00px">00:02:46 vs. 00:02:59</div><svg class="sp" width="116" height="14" viewBox="-1 -1 116 14"><polygon points="0,11 0.0,2.3 0.8,2.7 1.7,1.9 2.5,2.6 3.4,2.0 4.2,1.8 5.1,2.7 5.9,2.4 6.7,1.9 7.6,2.5 8.4,2.7 9.3,2.2 10.1,3.0 11.0,2.3 11.8,2.4 12.6,1.8 13.5,2.0 14.3,2.1 15.2,2.5 16.0,2.5 16.9,2.3 17.7,2.3 18.6,2.2 19.4,2.2 20.2,2.4 21.1,2.0 21.9,1.9 22.8,1.9 23.6,2.0 24.5,1.9 25.3,1.9 26.1,1.9 27.0,2.1 27.8,1.7 28.7,2.3 29.5,1.8 30.4,2.3 31.2,1.9 32.0,1.8 32.9,1.9 33.7,2.2 34.6,1.8 35.4,2.1 36.3,2.4 37.1,2.1 37.9,2.1 38.8,2.6 39.6,1.8 40.5,2.9 41.3,1.7 42.2,1.8 43.0,1.8 43.9,2.0 44.7,2.0 45.5,2.4 46.4,3.0 47.2,1.7 48.1,2.3 48.9,1.8 49.8,2.3 50.6,2.1 51.4,2.4 52.3,1.9 53.1,2.7 54.0,2.5 54.8,2.2 55.7,2.0 56.5,2.4 57.3,1.9 58.2,2.5 59.0,2.2 59.9,1.9 60.7,1.7 61.6,2.6 62.4,1.8 63.2,2.2 64.1,2.8 64.9,2.3 65.8,2.7 66.6,2.2 67.5,2.0 68.3,1.8 69.1,1.9 70.0,2.0 70.8,1.8 71.7,2.1 72.5,1.7 73.4,2.2 74.2,2.2 75.1,2.5 75.9,2.7 76.7,2.0 77.6,1.8 78.4,1.9 79.3,1.9 80.1,2.2 81.0,2.0 81.8,2.2 82.6,2.6 83.5,2.9 84.3,2.4 85.2,1.9 86.0,2.5 86.9,2.0 87.7,2.3 88.5,1.8 89.4,2.4 90.2,2.0 91.1,2.3 91.9,2.5 92.8,2.2 93.6,2.2 94.4,1.8 95.3,1.9 96.1,2.7 97.0,3.1 97.8,2.8 98.7,2.3 99.5,3.0 100.4,2.4 101.2,2.3 102.0,3.0 102.9,2.3 103.7,1.8 104.6,2.1 105.4,2.6 106.3,2.0 107.1,2.3 107.9,2.4 108.8,2.1 109.6,2.0 110.5,1.8 111.3,2.1 112.2,2.9 113.0,2.9 113.0,11.0" fill="#e7e8e8"/><polyline points="0.0,2.8 0.8,2.7 1.7,3.1 2.5,3.0 3.4,2.0 4.2,2.2 5.1,2.7 5.9,2.4 6.7,2.9 7.6,3.1 8.4,3.2 9.3,2.9 10.1,3.0 11.0,3.1 11.8,3.0 12.6,2.1 13.5,2.0 14.3,2.1 15.2,2.9 16.0,2.5 16.9,2.3 17.7,3.0 18.6,2.2 19.4,2.9 20.2,2.4 21.1,2.7 21.9,1.9 22.8,3.0 23.6,2.5 24.5,2.2 25.3,2.5 26.1,1.9 27.0,2.1 27.8,2.0 28.7,2.5 29.5,2.9 30.4,2.5 31.2,1.9 32.0,2.2 32.9,2.6 33.7,2.8 34.6,2.1 35.4,2.9 36.3,3.0 37.1,3.2 37.9,2.2 38.8,3.0 39.6,2.4 40.5,2.9 41.3,2.7 42.2,1.9 43.0,2.1 43.9,2.0 44.7,3.2 45.5,3.3 46.4,3.0 47.2,3.2 48.1,2.3 48.9,3.2 49.8,2.3 50.6,2.1 51.4,2.4 52.3,3.2 53.1,2.9 54.0,3.1 54.8,3.2 55.7,2.5 56.5,3.0 57.3,2.3 58.2,2.9 59.0,2.9 59.9,2.6 60.7,2.9 61.6,2.6 62.4,2.8 63.2,2.2 64.1,2.8 64.9,3.1 65.8,3.2 66.6,2.4 67.5,2.0 68.3,3.2 69.1,2.7 70.0,2.0 70.8,2.2 71.7,2.1 72.5,2.7 73.4,2.2 74.2,2.2 75.1,2.5 75.9,2.7 76.7,2.6 77.6,2.1 78.4,3.1 79.3,1.9 80.1,2.2 81.0,2.0 81.8,2.2 82.6,2.8 83.5,3.0 84.3,2.4 85.2,2.5 86.0,3.1 86.9,3.0 87.7,2.7 88.5,2.9 89.4,2.4 90.2,2.0 91.1,2.9 91.9,2.8 92.8,2.2 93.6,3.3 94.4,2.5 95.3,2.2 96.1,3.2 97.0,3.1 97.8,2.8 98.7,2.7 99.5,3.2 100.4,3.2 101.2,3.0 102.0,3.3 102.9,2.3 103.7,2.2 104.6,2.9 105.4,2.6 106.3,2.0 107.1,2.3 107.9,2.4 108.8,2.9 109.6,2.0 110.5,2.5 111.3,2.1 112.2,2.9 113.0,3.3" fill="none" stroke="#058dc7" stroke-width="1.2"/><polyline points="0.0,2.3 0.8,3.0 1.7,1.9 2.5,2.6 3.4,2.2 4.2,1.8 5.1,3.0 5.9,2.9 6.7,1.9 7.6,2.5 8.4,2.7 9.3,2.2 10.1,3.0 11.0,2.3 11.8,2.4 12.6,1.8 13.5,2.0 14.3,2.4 15.2,2.5 16.0,2.6 16.9,2.4 17.7,2.3 18.6,3.0 19.4,2.2 20.2,2.4 21.1,2.0 21.9,2.0 22.8,1.9 23.6,2.0 24.5,1.9 25.3,1.9 26.1,1.9 27.0,2.4 27.8,1.7 28.7,2.3 29.5,1.8 30.4,2.3 31.2,3.1 32.0,1.8 32.9,1.9 33.7,2.2 34.6,1.8 35.4,2.1 36.3,2.4 37.1,2.1 37.9,2.1 38.8,2.6 39.6,1.8 40.5,3.1 41.3,1.7 42.2,1.8 43.0,1.8 43.9,2.6 44.7,2.0 45.5,2.4 46.4,3.0 47.2,1.7 48.1,2.5 48.9,1.8 49.8,2.9 50.6,2.2 51.4,2.7 52.3,1.9 53.1,2.7 54.0,2.5 54.8,2.2 55.7,2.0 56.5,2.4 57.3,1.9 58.2,2.5 59.0,2.2 59.9,1.9 60.7,1.7 61.6,2.8 62.4,1.8 63.2,2.9 64.1,2.9 64.9,2.3 65.8,2.7 66.6,2.2 67.5,2.3 68.3,1.8 69.1,1.9 70.0,2.6 70.8,1.8 71.7,2.6 72.5,1.7 73.4,3.1 74.2,2.5 75.1,2.8 75.9,2.8 76.7,2.0 77.6,1.8 78.4,1.9 79.3,3.1 80.1,3.0 81.0,2.4 81.8,2.9 82.6,2.6 83.5,2.9 84.3,2.5 85.2,1.9 86.0,2.5 86.9,2.0 87.7,2.3 88.5,1.8 89.4,2.4 90.2,2.5 91.1,2.3 91.9,2.5 92.8,2.2 93.6,2.2 94.4,1.8 95.3,1.9 96.1,2.7 97.0,3.1 97.8,3.0 98.7,2.3 99.5,3.0 100.4,2.4 101.2,2.3 102.0,3.0 102.9,3.0 103.7,1.8 104.6,2.1 105.4,2.6 106.3,2.7 107.1,2.3 107.9,2.7 108.8,2.1 109.6,2.1 110.5,1.8 111.3,2.8 112.2,3.1 113.0,11.0" fill="none" stroke="#ed7e17" stroke-width="1.3" stroke-opacity="0.85"/></svg></div>
<div class="card" style="left:140px;top:254.6px"><div class="t" id="t7" style="letter-spacing:0.233px;margin-left:0.20px">Fluktfrekvens</div><div class="b" id="b7" style="letter-spacing:-0.200px;margin-left:0.20px">16,24 <span class="pc">%</span></div><div class="s" id="s7" style="letter-spacing:0.000px;margin-left:0.20px">47,79 % vs. 41,11 %</div><svg class="sp" width="116" height="14" viewBox="-1 -1 116 14"><polygon points="0,11 0.0,1.5 0.8,1.5 1.7,1.6 2.5,1.5 3.4,1.5 4.2,1.8 5.1,1.5 5.9,1.7 6.7,1.4 7.6,1.6 8.4,1.4 9.3,1.7 10.1,1.8 11.0,1.8 11.8,1.4 12.6,1.6 13.5,1.4 14.3,1.4 15.2,1.5 16.0,1.5 16.9,1.4 17.7,1.6 18.6,1.8 19.4,1.5 20.2,1.7 21.1,1.6 21.9,1.6 22.8,1.4 23.6,1.6 24.5,1.8 25.3,1.7 26.1,1.7 27.0,1.5 27.8,1.4 28.7,1.7 29.5,1.6 30.4,1.5 31.2,1.7 32.0,1.8 32.9,1.5 33.7,1.5 34.6,1.7 35.4,1.6 36.3,1.6 37.1,1.5 37.9,1.7 38.8,1.4 39.6,1.5 40.5,1.7 41.3,1.6 42.2,1.8 43.0,1.5 43.9,1.5 44.7,1.8 45.5,1.5 46.4,1.4 47.2,1.4 48.1,1.3 48.9,1.4 49.8,1.6 50.6,1.7 51.4,1.7 52.3,1.4 53.1,1.3 54.0,1.5 54.8,1.6 55.7,1.4 56.5,1.4 57.3,1.4 58.2,1.6 59.0,1.4 59.9,1.7 60.7,1.4 61.6,1.7 62.4,1.8 63.2,1.5 64.1,1.5 64.9,1.4 65.8,1.3 66.6,1.4 67.5,1.3 68.3,1.7 69.1,1.8 70.0,1.4 70.8,1.5 71.7,1.4 72.5,1.4 73.4,1.7 74.2,1.5 75.1,1.5 75.9,1.7 76.7,1.6 77.6,1.7 78.4,1.7 79.3,1.3 80.1,1.4 81.0,1.7 81.8,1.7 82.6,1.3 83.5,1.6 84.3,1.6 85.2,1.6 86.0,1.5 86.9,1.3 87.7,1.4 88.5,1.4 89.4,1.4 90.2,1.7 91.1,1.7 91.9,1.4 92.8,1.4 93.6,1.5 94.4,1.4 95.3,1.4 96.1,1.5 97.0,1.5 97.8,1.7 98.7,1.5 99.5,1.3 100.4,1.7 101.2,1.3 102.0,1.4 102.9,1.4 103.7,1.5 104.6,1.4 105.4,1.6 106.3,1.4 107.1,1.4 107.9,1.5 108.8,1.5 109.6,1.3 110.5,1.5 111.3,1.3 112.2,1.4 113.0,1.4 113.0,11.0" fill="#e7e8e8"/><polyline points="0.0,1.5 0.8,1.5 1.7,1.6 2.5,1.5 3.4,1.5 4.2,1.8 5.1,1.5 5.9,1.7 6.7,1.4 7.6,1.6 8.4,1.4 9.3,1.7 10.1,1.8 11.0,1.8 11.8,1.4 12.6,1.6 13.5,1.4 14.3,1.4 15.2,1.5 16.0,1.5 16.9,1.4 17.7,1.6 18.6,1.8 19.4,1.5 20.2,1.7 21.1,1.6 21.9,1.6 22.8,1.4 23.6,1.6 24.5,1.8 25.3,1.7 26.1,1.7 27.0,1.5 27.8,1.4 28.7,1.7 29.5,1.6 30.4,1.5 31.2,1.7 32.0,1.8 32.9,1.5 33.7,1.5 34.6,1.7 35.4,1.6 36.3,1.6 37.1,1.5 37.9,1.7 38.8,1.4 39.6,1.5 40.5,1.7 41.3,1.6 42.2,1.8 43.0,1.5 43.9,1.5 44.7,1.8 45.5,1.5 46.4,1.4 47.2,1.4 48.1,1.3 48.9,1.4 49.8,1.6 50.6,1.7 51.4,1.7 52.3,1.4 53.1,1.3 54.0,1.5 54.8,1.6 55.7,1.4 56.5,1.4 57.3,1.4 58.2,1.6 59.0,1.4 59.9,1.7 60.7,1.4 61.6,1.7 62.4,1.8 63.2,1.5 64.1,1.5 64.9,1.4 65.8,1.3 66.6,1.4 67.5,1.3 68.3,1.7 69.1,1.8 70.0,1.4 70.8,1.5 71.7,1.4 72.5,1.4 73.4,1.7 74.2,1.5 75.1,1.5 75.9,1.7 76.7,1.6 77.6,1.7 78.4,1.7 79.3,1.3 80.1,1.4 81.0,1.7 81.8,1.7 82.6,1.3 83.5,1.6 84.3,1.6 85.2,1.6 86.0,1.5 86.9,1.3 87.7,1.4 88.5,1.4 89.4,1.4 90.2,1.7 91.1,1.7 91.9,1.4 92.8,1.4 93.6,1.5 94.4,1.4 95.3,1.4 96.1,1.5 97.0,1.5 97.8,1.7 98.7,1.5 99.5,1.3 100.4,1.7 101.2,1.3 102.0,1.4 102.9,1.4 103.7,1.5 104.6,1.4 105.4,1.6 106.3,1.4 107.1,1.4 107.9,1.5 108.8,1.5 109.6,1.3 110.5,1.5 111.3,1.3 112.2,1.4 113.0,1.5" fill="none" stroke="#058dc7" stroke-width="1.2"/><polyline points="0.0,3.1 0.8,3.3 1.7,3.3 2.5,3.4 3.4,3.2 4.2,3.4 5.1,3.1 5.9,3.0 6.7,3.2 7.6,3.0 8.4,3.0 9.3,3.2 10.1,3.3 11.0,2.9 11.8,2.9 12.6,3.1 13.5,3.1 14.3,3.0 15.2,3.3 16.0,3.0 16.9,3.0 17.7,3.2 18.6,3.2 19.4,2.9 20.2,3.2 21.1,3.2 21.9,2.9 22.8,2.8 23.6,3.2 24.5,3.0 25.3,3.2 26.1,3.0 27.0,3.0 27.8,2.8 28.7,3.2 29.5,2.9 30.4,2.9 31.2,2.9 32.0,2.7 32.9,2.9 33.7,3.0 34.6,3.1 35.4,2.6 36.3,2.9 37.1,2.7 37.9,3.0 38.8,2.9 39.6,2.8 40.5,3.0 41.3,2.6 42.2,2.6 43.0,2.9 43.9,2.6 44.7,2.9 45.5,2.7 46.4,2.5 47.2,2.9 48.1,2.5 48.9,2.5 49.8,2.8 50.6,2.7 51.4,2.4 52.3,2.8 53.1,2.5 54.0,2.5 54.8,2.4 55.7,2.8 56.5,2.8 57.3,2.8 58.2,2.6 59.0,2.3 59.9,2.4 60.7,2.7 61.6,2.3 62.4,2.5 63.2,2.3 64.1,2.7 64.9,2.3 65.8,2.3 66.6,2.6 67.5,2.3 68.3,2.7 69.1,2.3 70.0,2.6 70.8,2.5 71.7,2.1 72.5,2.5 73.4,2.4 74.2,2.4 75.1,2.3 75.9,2.2 76.7,2.5 77.6,2.1 78.4,2.4 79.3,2.1 80.1,2.0 81.0,2.2 81.8,2.0 82.6,2.4 83.5,2.5 84.3,2.2 85.2,2.0 86.0,2.1 86.9,2.2 87.7,2.2 88.5,2.1 89.4,2.2 90.2,2.3 91.1,2.3 91.9,2.3 92.8,1.9 93.6,2.2 94.4,2.1 95.3,2.3 96.1,2.0 97.0,2.2 97.8,2.0 98.7,2.1 99.5,2.0 100.4,2.1 101.2,2.2 102.0,2.2 102.9,1.8 103.7,2.1 104.6,2.1 105.4,1.9 106.3,1.9 107.1,1.8 107.9,2.1 108.8,1.7 109.6,1.8 110.5,1.7 111.3,1.8 112.2,1.6 113.0,11.0" fill="none" stroke="#ed7e17" stroke-width="1.3" stroke-opacity="0.85"/></svg></div>
<div class="sep" style="left:132px;top:174px"></div>
<div class="sep" style="left:261px;top:174px"></div>
<div class="sep" style="left:389px;top:174px"></div>
<div class="sep" style="left:517px;top:174px"></div>
<div class="sep" style="left:646px;top:174px"></div>
<div class="sep" style="left:775px;top:174px"></div>
<div class="sep" style="left:132px;top:253.8px"></div>
<div class="sep" style="left:261px;top:253.8px"></div>
<div class="sq" style="left:870.3px;top:162.8px;background:#058dc7"></div>
<div class="pl" style="left:880.3px;top:161px">New Visitor</div>
<div class="sq" style="left:935.4px;top:162.8px;background:#50b432"></div>
<div class="pl" style="left:945.4px;top:161px">Returning Visitor</div>
<div class="pt" style="left:845.3px;top:177.8px">01.jan.2020 - 14.mai.2020</div>
<div class="pt" style="left:845.3px;top:327.7px">01.jan.2019 - 14.mai.2019</div>
<svg width="160" height="300" viewBox="864 180 160 300" style="position:absolute;left:864px;top:180px">
<circle cx="945.2" cy="258.3" r="61.8" fill="#058dc7"/><path d="M945.2,258.3 L945.2,196.5 A61.8,61.8 0 0 0 892.41,226.18 Z" fill="#50b432" stroke="#fff" stroke-width="1"/><line x1="945.2" y1="258.3" x2="945.2" y2="196.5" stroke="#fff" stroke-width="1"/>
<circle cx="945.2" cy="407.8" r="61.6" fill="#058dc7"/><path d="M945.2,407.8 L945.2,346.2 A61.6,61.6 0 0 0 887.93,385.12 Z" fill="#50b432" stroke="#fff" stroke-width="1"/><line x1="945.2" y1="407.8" x2="945.2" y2="346.2" stroke="#fff" stroke-width="1"/>
<g font-size="6" fill="#fff" font-weight="bold" text-anchor="middle">
<text x="921.7" y="218.4">16,2%</text>
<text x="969" y="303.1">83,8%</text>
<text x="917.5" y="369.7">19%</text>
<text x="973.8" y="451.4">81%</text>
</g>
</svg>
</body></html>
